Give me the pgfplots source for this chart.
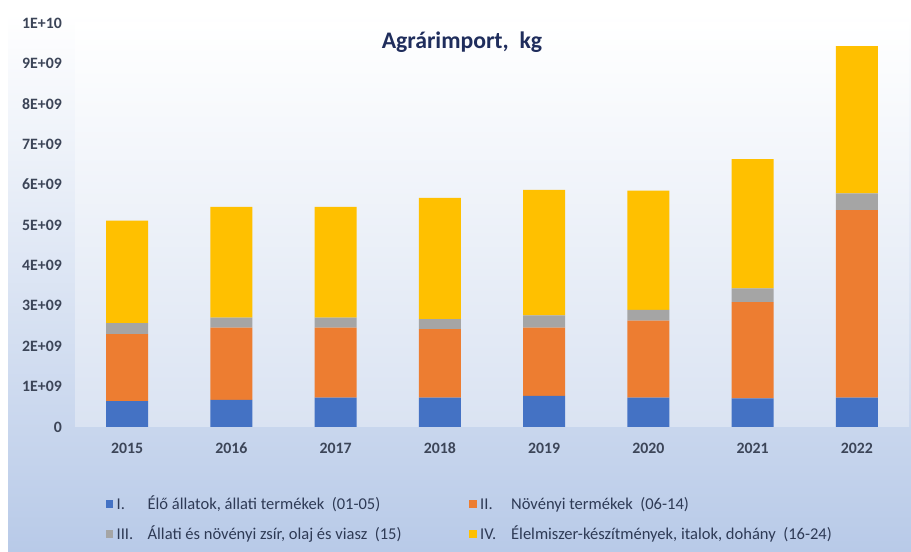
\documentclass[border=0pt]{standalone}
\usepackage{pgfplots}
\pgfplotsset{compat=1.18}
\usepackage{fontspec}
\setmainfont{Carlito}
\definecolor{cI}{HTML}{4472C4}
\definecolor{cII}{HTML}{ED7D31}
\definecolor{cIII}{HTML}{A5A5A5}
\definecolor{cIV}{HTML}{FFC000}
\definecolor{bgbot}{HTML}{B8CAE8}
\definecolor{pabot}{HTML}{DAE3F2}
\definecolor{titlec}{HTML}{1F2D5C}
\definecolor{tickc}{HTML}{3C4558}
\definecolor{legc}{HTML}{2E3A55}
\begin{document}
\begin{tikzpicture}
\path[use as bounding box] (0,0) rectangle (18.22,11.04);
\shade[top color=white, bottom color=bgbot] (0.16,0) rectangle (18.22,10.78);
\begin{axis}[
  at={(1.5cm,2.5cm)}, anchor=south west,
  scale only axis, width=16.68cm, height=8.08cm,
  ybar stacked, bar width=0.84cm,
  xmin=-0.5, xmax=7.5, ymin=0, ymax=1e10,
  scaled y ticks=false,
  xtick={0,1,2,3,4,5,6,7},
  xticklabels={2015,2016,2017,2018,2019,2020,2021,2022},
  ytick={0,1e9,2e9,3e9,4e9,5e9,6e9,7e9,8e9,9e9,1e10},
  yticklabels={0,1E+09,2E+09,3E+09,4E+09,5E+09,6E+09,7E+09,8E+09,9E+09,1E+10},
  major tick length=0pt,
  axis line style={draw=none},
  axis background/.style={top color=white, bottom color=pabot},
  /pgf/number format/assume math mode=true,
  tick label style={font=\bfseries\fontsize{9}{11}\selectfont, text=tickc},
  yticklabel style={xshift=-0.14cm},
  xticklabel style={yshift=-0.14cm, text height=1.6ex, text depth=0.2ex},
  legend style={at={(rel axis cs:0.03,-0.153)}, anchor=north west, draw=none, fill=none,
    legend columns=2, font=\fontsize{9.4}{11}\selectfont, text=legc, row sep=0.13cm,
    /tikz/every even column/.append style={column sep=0cm}},
  legend cell align=left,
  legend image code/.code={\fill[#1] (0cm,-0.07cm) rectangle (0.15cm,0.08cm);},
]
\addplot[fill=cI, draw=none] coordinates {(0,0.64e9) (1,0.67e9) (2,0.73e9) (3,0.73e9) (4,0.77e9) (5,0.73e9) (6,0.71e9) (7,0.73e9)};
\addplot[fill=cII, draw=none] coordinates {(0,1.66e9) (1,1.79e9) (2,1.73e9) (3,1.69e9) (4,1.69e9) (5,1.90e9) (6,2.38e9) (7,4.64e9)};
\addplot[fill=cIII, draw=none] coordinates {(0,0.27e9) (1,0.25e9) (2,0.25e9) (3,0.25e9) (4,0.30e9) (5,0.27e9) (6,0.34e9) (7,0.41e9)};
\addplot[fill=cIV, draw=none] coordinates {(0,2.54e9) (1,2.74e9) (2,2.74e9) (3,3.00e9) (4,3.11e9) (5,2.95e9) (6,3.20e9) (7,3.65e9)};
\legend{\makebox[6.98cm][l]{\makebox[0.62cm][l]{I.}Élő állatok, állati termékek\ \ (01-05)},
  {\makebox[0.62cm][l]{II.}Növényi termékek\ \ (06-14)},
  \makebox[6.98cm][l]{\makebox[0.62cm][l]{III.}Állati és növényi zsír, olaj és viasz\ \ (15)},
  {\makebox[0.62cm][l]{IV.}Élelmiszer-készítmények, italok, dohány\ \ (16-24)}}
\node[font=\bfseries\fontsize{13.5}{16}\selectfont, text=titlec] at (rel axis cs:0.464,0.953) {Agrárimport,\ \ kg};
\end{axis}
\end{tikzpicture}
\end{document}
